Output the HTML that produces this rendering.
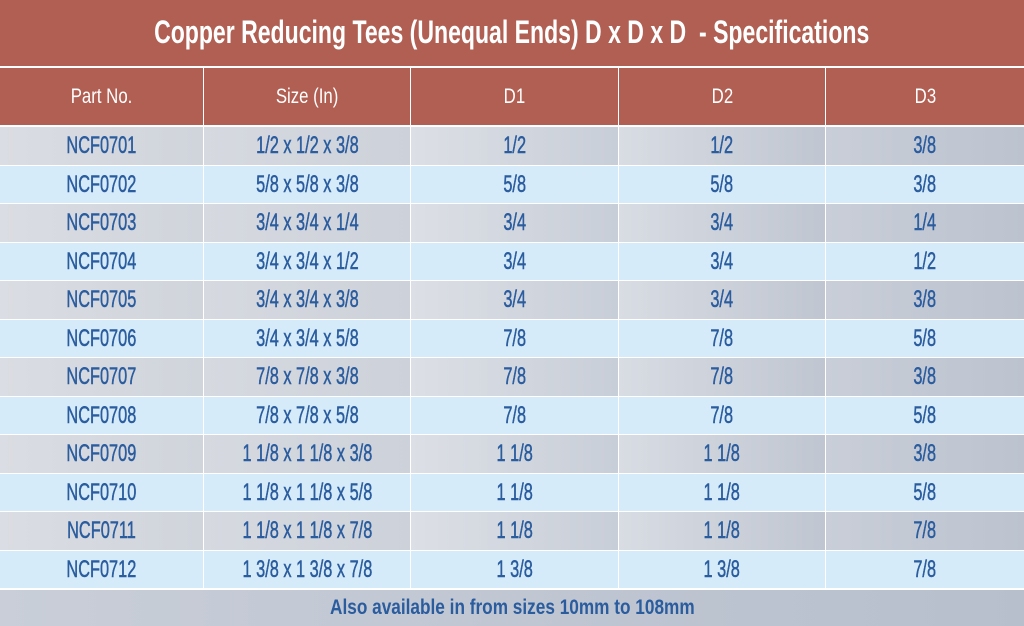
<!DOCTYPE html>
<html><head><meta charset="utf-8">
<style>
body{margin:0;width:1024px;height:626px;overflow:hidden;background:#fff;font-family:"Liberation Sans Narrow","Liberation Sans",sans-serif;}
#wrap{position:relative;width:1024px;height:626px;}
.title{position:absolute;left:0;top:0;width:1024px;height:66px;background:#b05f52;color:#fff;font-weight:bold;font-size:32px;line-height:64px;text-align:center;}
.title .sq{transform:scaleX(0.72);}
.hdr{position:absolute;top:68px;height:57px;background:#b05f52;color:#fff;font-size:21px;line-height:57px;text-align:center;}
.hdr .sq{transform:scaleX(0.8);}
.cell{position:absolute;color:#2a5c9e;font-size:24px;text-align:center;-webkit-text-stroke:0.5px #2a5c9e;}
.cell .sq{transform:scaleX(0.68);}
.foot{position:absolute;left:0;top:590px;width:1024px;height:36px;background:linear-gradient(90deg,#c9ced8,#b7bfcd);color:#2a5c9e;font-weight:bold;font-size:21px;line-height:36px;text-align:center;}
.foot .sq{transform:scaleX(0.82);}
.sq{display:inline-block;white-space:nowrap;}
</style></head><body>
<div id="wrap">
<div class="title"><span class="sq">Copper Reducing Tees (Unequal Ends) D x D x D&nbsp; - Specifications</span></div>
<div class="foot"><span class="sq">Also available in from sizes 10mm to 108mm</span></div>
</div>
<script>
const headers=["Part No.","Size (In)","D1","D2","D3"];
const parts=["NCF0701","NCF0702","NCF0703","NCF0704","NCF0705","NCF0706","NCF0707","NCF0708","NCF0709","NCF0710","NCF0711","NCF0712"];
const sizes=["1/2 x 1/2 x 3/8","5/8 x 5/8 x 3/8","3/4 x 3/4 x 1/4","3/4 x 3/4 x 1/2","3/4 x 3/4 x 3/8","3/4 x 3/4 x 5/8","7/8 x 7/8 x 3/8","7/8 x 7/8 x 5/8","1 1/8 x 1 1/8 x 3/8","1 1/8 x 1 1/8 x 5/8","1 1/8 x 1 1/8 x 7/8","1 3/8 x 1 3/8 x 7/8"];
const d1=["1/2","5/8","3/4","3/4","3/4","7/8","7/8","7/8","1 1/8","1 1/8","1 1/8","1 3/8"];
const d2=["1/2","5/8","3/4","3/4","3/4","7/8","7/8","7/8","1 1/8","1 1/8","1 1/8","1 3/8"];
const d3=["3/8","3/8","1/4","1/2","3/8","5/8","3/8","5/8","3/8","5/8","7/8","7/8"];
const colX=[0,204,411,619,826,1024];
const wrap=document.getElementById('wrap');
headers.forEach((h,c)=>{
  const d=document.createElement('div');
  d.className='hdr';
  d.style.left=colX[c]+'px';d.style.width=(colX[c+1]-colX[c]-(c<4?1:0))+'px';
  d.innerHTML='<span class="sq">'+h+'</span>';
  
  
  wrap.appendChild(d);
});
const cols=[parts,sizes,d1,d2,d3];
const grayBg=["linear-gradient(90deg,#dadde3,#d0d4db)","linear-gradient(90deg,#d6d9e0,#cdd1d9)","linear-gradient(90deg,#dcdfe5,#c8ced8)","linear-gradient(90deg,#d8dce3,#c0c6d1)","linear-gradient(90deg,#c9ced8,#bcc3cf)"];
for(let r=0;r<parts.length;r++){
  const top=127+r*38.5;
  for(let c=0;c<5;c++){
    const d=document.createElement('div');
    d.className='cell';
    d.style.left=colX[c]+'px';d.style.width=(colX[c+1]-colX[c]-(c<4?1:0))+'px';
    d.style.top=top+'px';d.style.height='37.5px';d.style.lineHeight='37px';
    d.style.background=(r%2==0)?grayBg[c]:'#d5ebfa';
    d.innerHTML='<span class="sq">'+cols[c][r]+'</span>';
    
    
    wrap.appendChild(d);
  }
}
</script>
</body></html>
